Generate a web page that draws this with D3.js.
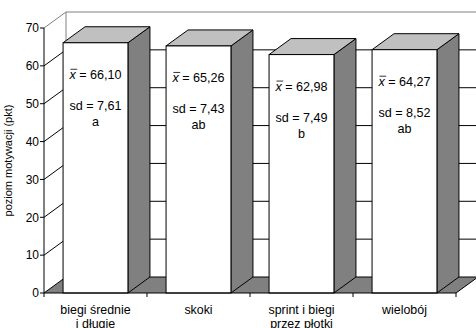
<!DOCTYPE html>
<html>
<head>
<meta charset="utf-8">
<script src="https://cdn.jsdelivr.net/npm/d3@7"></script>
<style>
  body { margin: 0; background: #fff; }
  text { font-family: "Liberation Sans", Arial, sans-serif; fill: #000; }
</style>
</head>
<body>
<svg id="chart" width="476" height="328"></svg>
<script>
// Data
const categories = ['biegi średnie|i długie', 'skoki', 'sprint i biegi|przez płotki', 'wielobój']
const means = [66.10, 65.26, 62.98, 64.27]
const sds = [7.61, 7.43, 7.49, 8.52]
const groups = ['a', 'ab', 'b', 'ab']
const yTicks = [0, 10, 20, 30, 40, 50, 60, 70]

const bars = categories.map((c, i) => ({cat: c, mean: means[i], sd: sds[i], group: groups[i]}))

const svg = d3.select('#chart')

// depth offset of the 3D box
const dx = 22, dy = -16

const x = d3.scaleBand()
    .domain(categories)
    .range([44, 456])
    .paddingInner(0.37)
    .paddingOuter(0.185)

const y = d3.scaleLinear()
    .domain([0, 70])
    .range([293, 28])

const fmt = v => v.toFixed(2).replace('.', ',')
const x0 = x.range()[0], x1 = x.range()[1]

// Floor
svg.append('polygon')
    .attr('points', [[x0, y(0)], [x0 + dx, y(0) + dy], [x1 + dx, y(0) + dy], [x1, y(0)]].join(' '))
    .style('fill', '#808080')

// Back wall grid
yTicks.forEach(t => {
    svg.append('line')
        .attr('x1', x0 + dx).attr('x2', x1 + dx)
        .attr('y1', y(t) + dy).attr('y2', y(t) + dy)
        .style('stroke', t === 70 ? '#808080' : '#000')
        .style('stroke-width', 1)
    // side wall lines
    svg.append('line')
        .attr('x1', x0).attr('x2', x0 + dx)
        .attr('y1', y(t)).attr('y2', y(t) + dy)
        .style('stroke', t === 70 ? '#808080' : '#000')
})

// back wall left edge
svg.append('line')
    .attr('x1', x0 + dx).attr('x2', x0 + dx)
    .attr('y1', y(70) + dy).attr('y2', y(0) + dy)
    .style('stroke', '#808080')

// floor right edge
svg.append('line')
    .attr('x1', x1).attr('x2', x1 + dx)
    .attr('y1', y(0)).attr('y2', y(0) + dy)
    .style('stroke', '#000')

// Bars
const barG = svg.selectAll('.bar')
    .data(bars)
    .enter()
    .append('g')
    .attr('class', 'bar')

barG.append('polygon')
    .attr('points', d => {
        const l = x(d.cat), r = l + x.bandwidth(), t = y(d.mean)
        return [[r, t], [r + dx, t + dy], [r + dx, y(0) + dy], [r, y(0)]].join(' ')
    })
    .style('fill', '#808080')
    .style('stroke', '#000')
    .style('stroke-linejoin', 'round')

barG.append('polygon')
    .attr('points', d => {
        const l = x(d.cat), r = l + x.bandwidth(), t = y(d.mean)
        return [[l, t], [l + dx, t + dy], [r + dx, t + dy], [r, t]].join(' ')
    })
    .style('fill', '#c0c0c0')
    .style('stroke', '#000')
    .style('stroke-linejoin', 'round')

barG.append('rect')
    .attr('x', d => x(d.cat))
    .attr('y', d => y(d.mean))
    .attr('width', x.bandwidth())
    .attr('height', d => y(0) - y(d.mean))
    .style('fill', '#fff')
    .style('stroke', '#000')

// Bar labels
barG.each(function(d) {
    const g = d3.select(this)
    const cx = x(d.cat) + x.bandwidth() / 2
    const t = y(d.mean)
    const mt = g.append('text')
        .attr('x', cx).attr('y', t + 36)
        .attr('text-anchor', 'middle')
        .style('font-size', '12.6px')
    mt.append('tspan').style('font-style', 'italic').text('x')
    mt.append('tspan').text(' = ' + fmt(d.mean))
    const node = mt.node()
    const s = node.getStartPositionOfChar(0), e = node.getEndPositionOfChar(0)
    g.append('line')
        .attr('x1', s.x + 1).attr('x2', e.x + 1.5)
        .attr('y1', t + 26.5).attr('y2', t + 26.5)
        .style('stroke', '#000').style('stroke-width', 0.8)
    g.append('text')
        .attr('x', cx).attr('y', t + 67)
        .attr('text-anchor', 'middle')
        .style('font-size', '12.6px')
        .text('sd = ' + fmt(d.sd))
    g.append('text')
        .attr('x', cx).attr('y', t + 83)
        .attr('text-anchor', 'middle')
        .style('font-size', '12.6px')
        .text(d.group)
})

// Y axis
svg.append('line')
    .attr('x1', x0).attr('x2', x0)
    .attr('y1', y(70)).attr('y2', y(0))
    .style('stroke', '#000')

yTicks.forEach(t => {
    svg.append('line')
        .attr('x1', x0 - 4).attr('x2', x0)
        .attr('y1', y(t)).attr('y2', y(t))
        .style('stroke', '#000')
    svg.append('text')
        .attr('x', x0 - 5).attr('y', y(t) + 4.3)
        .attr('text-anchor', 'end')
        .style('font-size', '12px')
        .text(t)
})

svg.append('text')
    .attr('transform', `translate(12,${(y(0) + y(70)) / 2}) rotate(-90)`)
    .attr('text-anchor', 'middle')
    .style('font-size', '11px')
    .text('poziom motywacji (pkt)')

// X axis
svg.append('line')
    .attr('x1', x0).attr('x2', x1)
    .attr('y1', y(0)).attr('y2', y(0))
    .style('stroke', '#000')

d3.range(categories.length + 1).forEach(i => {
    const xx = x0 + x.step() * i
    svg.append('line')
        .attr('x1', xx).attr('x2', xx)
        .attr('y1', y(0)).attr('y2', y(0) + 4)
        .style('stroke', '#000')
})

categories.forEach(c => {
    const lines = c.split('|')
    const txt = svg.append('text')
        .attr('text-anchor', 'middle')
        .style('font-size', '12.4px')
    lines.forEach((l, j) => {
        txt.append('tspan')
            .attr('x', x(c) + x.bandwidth() / 2)
            .attr('y', 314 + j * 13.5)
            .text(l)
    })
})
</script>
</body>
</html>
